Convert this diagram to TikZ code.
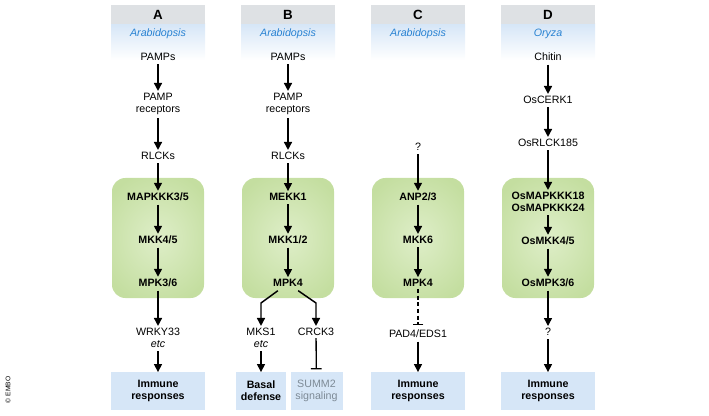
\documentclass[tikz,border=0pt]{standalone}
\usepackage{fontspec}
\setmainfont{Liberation Sans}
\usetikzlibrary{arrows.meta}
\definecolor{gbox}{RGB}{196,222,160}
\definecolor{gin}{RGB}{222,238,200}
\definecolor{rbox}{RGB}{214,230,247}
\definecolor{hgray}{RGB}{222,225,228}
\definecolor{sp}{RGB}{40,130,210}
\definecolor{sgray}{RGB}{125,138,150}
\begin{document}
\begin{tikzpicture}[x=0.75pt,y=-0.75pt,
 every node/.style={font=\fontsize{8}{9}\selectfont,align=center,inner sep=1.5pt},
 bl/.style={font=\fontsize{8}{9}\selectfont\bfseries},
 arr/.style={-{Triangle[length=6pt,width=6pt]},line width=1.1pt,shorten <=1pt},
 inh/.style={-{Bar[width=8pt]},line width=1pt,shorten >=2pt},
 hdr/.style={fill=hgray,minimum width=70.5pt,minimum height=14pt,font=\fontsize{10}{11}\selectfont\bfseries},
 resp/.style={fill=rbox,minimum height=28pt,font=\fontsize{8}{9}\selectfont\bfseries}]
\useasboundingbox (0,0) rectangle (709,416);
\node[rotate=90,font=\fontsize{5}{6}\selectfont] (embo) at (8,390) {© EMBO};
\foreach \c/\L/\s in {158/A/Arabidopsis,288/B/Arabidopsis,418/C/Arabidopsis,548/D/Oryza}{
 \shade[top color=rbox,bottom color=white] (\c-47,24) rectangle (\c+47,60);
 \node[hdr] (h\L) at (\c,14.5) {\L};
 \node[text=sp,font=\fontsize{8}{9}\selectfont\itshape] (s\L) at (\c,34) {\s};
}
\foreach \c in {158,288,418,548}{
 \begin{scope}
 \clip[rounded corners=10pt] (\c-46,178) rectangle (\c+46,298);
 \shade[inner color=gin,outer color=gbox] (\c-60,170) rectangle (\c+60,306);
 \end{scope}
}
% Column A
\node (a1) at (158,57) {PAMPs};
\node (a2) at (158,104) {PAMP\\receptors};
\node (a3) at (158,156) {RLCKs};
\node[bl] (a4) at (158,197) {MAPKKK3/5};
\node[bl] (a5) at (158,240) {MKK4/5};
\node[bl] (a6) at (158,283) {MPK3/6};
\node (a7) at (158,338) {WRKY33\\\textit{etc}};
\node[resp,minimum width=70.5pt] (a8) at (158,391) {Immune\\responses};
\draw[arr] (a1) -- (a2); \draw[arr] (a2) -- (a3); \draw[arr] (a3) -- (a4);
\draw[arr] (a4) -- (a5); \draw[arr] (a5) -- (a6); \draw[arr] (a6) -- (a7); \draw[arr] (a7) -- (a8);
% Column B
\node (b1) at (288,57) {PAMPs};
\node (b2) at (288,104) {PAMP\\receptors};
\node (b3) at (288,156) {RLCKs};
\node[bl] (b4) at (288,197) {MEKK1};
\node[bl] (b5) at (288,240) {MKK1/2};
\node[bl] (b6) at (288,283) {MPK4};
\node (b7) at (261,338) {MKS1\\\textit{etc}};
\node (b8) at (316,332) {CRCK3};
\node[resp,minimum width=38pt] (b9) at (261,391) {Basal\\defense};
\node[resp,minimum width=39pt,text=sgray,font=\fontsize{8}{9}\selectfont] (b10) at (316.5,391) {SUMM2\\signaling};
\draw[arr] (b1) -- (b2); \draw[arr] (b2) -- (b3); \draw[arr] (b3) -- (b4);
\draw[arr] (b4) -- (b5); \draw[arr] (b5) -- (b6);
\draw[arr] (b6.south west) ++(8,1) -- (261,303) -- (b7);
\draw[arr] (b6.south east) ++(-8,1) -- (316,303) -- (b8);
\draw[arr] (b7) -- (b9); \draw[inh] (b8) -- (b10);
% Column C
\node (c1) at (418,147) {?};
\node[bl] (c4) at (418,197) {ANP2/3};
\node[bl] (c5) at (418,240) {MKK6};
\node[bl] (c6) at (418,283) {MPK4};
\node (c7) at (418,334) {PAD4/EDS1};
\node[resp,minimum width=70.5pt] (c8) at (418,391) {Immune\\responses};
\draw[arr] (c1) -- (c4); \draw[arr] (c4) -- (c5); \draw[arr] (c5) -- (c6);
\draw[inh,dash pattern=on 3pt off 2pt] (c6) -- (c7); \draw[arr] (c7) -- (c8);
% Column D
\node (d1) at (548,57) {Chitin};
\node (d2) at (548,100) {OsCERK1};
\node (d3) at (548,143) {OsRLCK185};
\node[bl] (d4) at (548,202) {OsMAPKKK18\\OsMAPKKK24};
\node[bl] (d5) at (548,241) {OsMKK4/5};
\node[bl] (d6) at (548,283) {OsMPK3/6};
\node (d7) at (548,332) {?};
\node[resp,minimum width=70.5pt] (d8) at (548,391) {Immune\\responses};
\draw[arr] (d1) -- (d2); \draw[arr] (d2) -- (d3); \draw[arr] (d3) -- (d4);
\draw[arr] (d4) -- (d5); \draw[arr] (d5) -- (d6); \draw[arr] (d6) -- (d7); \draw[arr] (d7) -- (d8);
\end{tikzpicture}
\end{document}
